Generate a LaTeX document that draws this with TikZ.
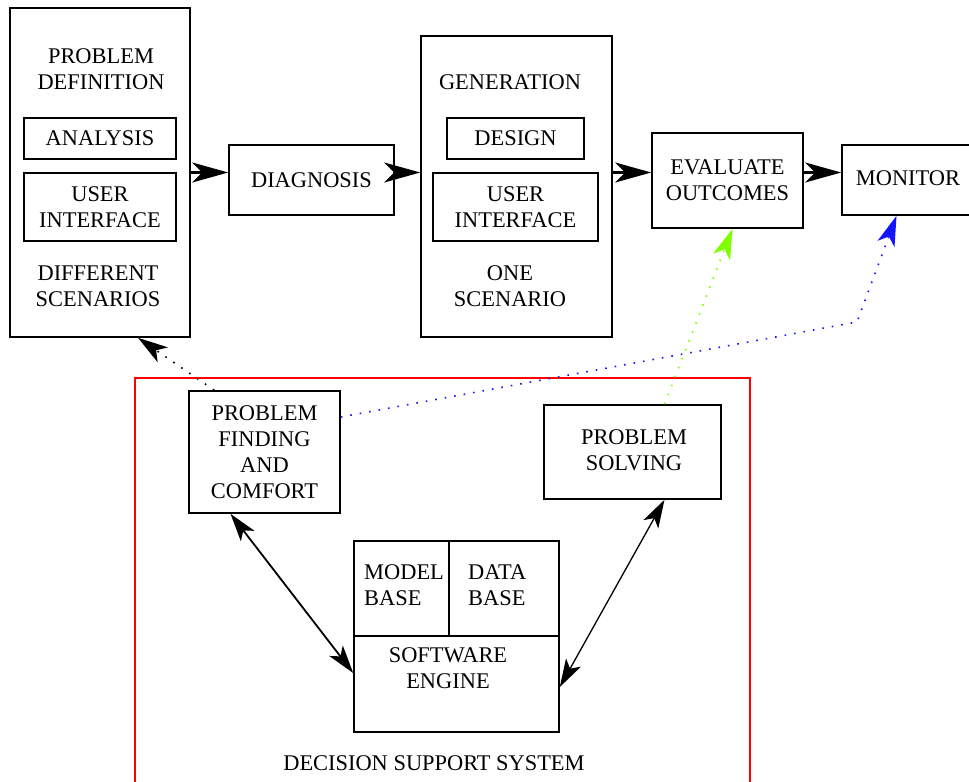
\documentclass[tikz,border=0pt]{standalone}
\usepackage{fontspec}
\setmainfont{Liberation Serif}
\usetikzlibrary{calc,arrows.meta}
\definecolor{dssred}{RGB}{255,0,0}
\definecolor{evalgreen}{RGB}{127,255,0}
\definecolor{monblue}{RGB}{20,20,255}
\newcommand{\dfont}{\fontsize{22.5}{26}\selectfont}
\newcommand{\mkbox}[6]{
	\node (#1) at (#2,#3) [box,minimum width=#4bp,minimum height=#5bp] {#6};
}

\begin{document}
\begin{tikzpicture}[x=1bp,y=-1bp,font=\dfont,
	box/.style={draw,line width=1.6bp,inner sep=0pt,align=center},
	lbl/.style={inner sep=0pt,align=center},
	flow/.style={line width=2.2bp,-{Stealth[length=36bp,width=20bp,inset=10bp]}},
	both/.style={line width=1.8bp,{Stealth[length=28bp,width=17bp,inset=7bp]}-{Stealth[length=28bp,width=17bp,inset=7bp]}},
	link/.style={line width=1.6bp,dash pattern=on 1.6bp off 8bp,-{Stealth[length=30bp,width=18bp,inset=8bp]}}]
	\clip (0,0) rectangle (969,782);
	\fill[white] (0,0) rectangle (969,782);
	\mkbox{probdef}{100}{172.5}{180}{329}{}
		\node (L1) at (101,69) [lbl] {PROBLEM\\DEFINITION};
		\mkbox{analysis}{100}{138.5}{152}{41}{ANALYSIS}
		\mkbox{uileft}{100}{207}{152}{68}{USER\\INTERFACE}
		\node (L2) at (98,286) [lbl] {DIFFERENT\\SCENARIOS};
	\mkbox{diagnosis}{311.5}{180}{165}{70}{DIAGNOSIS}
	\mkbox{generation}{516.5}{186.5}{191}{301}{}
		\node (L3) at (510,82) [lbl] {GENERATION};
		\mkbox{design}{515.5}{138.5}{137}{41}{DESIGN}
		\mkbox{uimid}{515.5}{207}{165}{68}{USER\\INTERFACE}
		\node (L4) at (510,286) [lbl] {ONE\\SCENARIO};
	\mkbox{evaluate}{727.5}{180.5}{151}{95}{EVALUATE\\OUTCOMES}
	\mkbox{monitor}{908.5}{180}{133}{70}{}
		\node (L5) at (908,178) [lbl] {MONITOR};
	\node (dss) at (442.5,584) [draw=dssred,line width=1.4bp,minimum width=615bp,minimum height=412bp,inner sep=0pt] {};
		\node (L6) at (434,763) [lbl] {DECISION SUPPORT SYSTEM};
		\mkbox{pfind}{264.5}{452}{151}{122}{PROBLEM\\FINDING\\AND\\COMFORT}
		\mkbox{psolve}{632.5}{452}{177}{94}{}
		\node (L7) at (634,450) [lbl] {PROBLEM\\SOLVING};
		\mkbox{modelb}{401.5}{588.5}{95}{95}{}
		\node (L8) at (364,585.5) [lbl,anchor=west,align=left] {MODEL\\BASE};
		\mkbox{datab}{504}{588.5}{110}{95}{}
		\node (L9) at (468,585.5) [lbl,anchor=west,align=left] {DATA\\BASE};
		\mkbox{engine}{456.5}{684}{205}{96}{}
		\node (L10) at (448,668) [lbl] {SOFTWARE\\ENGINE};
	\draw[flow] (probdef.east) -- (probdef.east -| diagnosis.west);
	\draw[flow] (diagnosis.east |- probdef.east) -- (generation.west |- probdef.east);
	\draw[flow] (generation.east |- probdef.east) -- (evaluate.west |- probdef.east);
	\draw[flow] (evaluate.east |- probdef.east) -- (monitor.west |- probdef.east);
	\draw[both] ($(pfind.south)+(-34,0)$) -- ($(engine.west)+(0,-11)$);
	\draw[both,line width=1.3bp] ($(psolve.south)+(32,0)$) -- ($(engine.east)+(0,3)$);
	\draw[link] ($(pfind.north west)+(26,0)$) -- ($(probdef.south)+(38,0)$);
	\coordinate (bend) at (857,322);
	\draw[link,monblue] ($(pfind.east)+(0,-35)$) -- (bend) -- ($(monitor.south)+(-12,0)$);
	\draw[link,evalgreen] ($(psolve.north)+(32,0)$) -- ($(evaluate.south)+(5,0)$);
\end{tikzpicture}
\end{document}
